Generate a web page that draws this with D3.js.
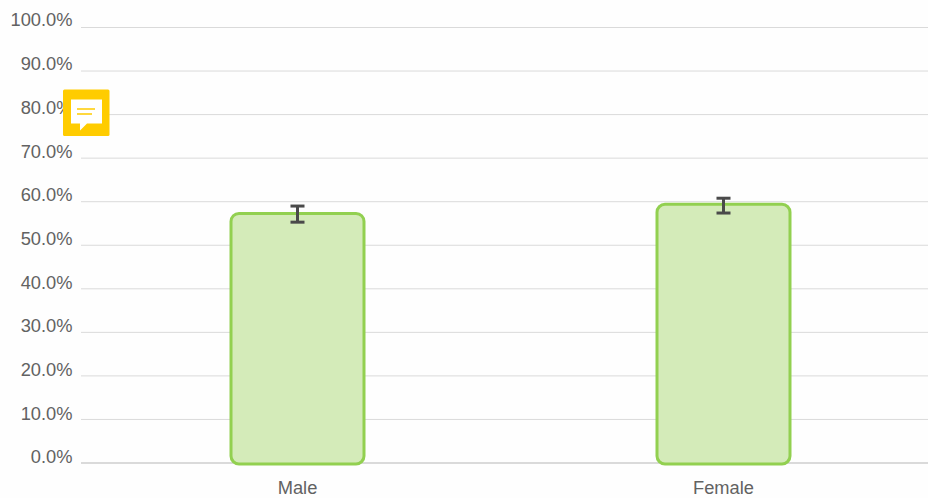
<!DOCTYPE html>
<html>
<head>
<meta charset="utf-8">
<script src="https://cdn.jsdelivr.net/npm/d3@7"></script>
<style>
    html, body { margin: 0; padding: 0; background: #fefefe; }
    svg { display: block; }
    text { font-family: "Liberation Sans", Arial, sans-serif; font-size: 18.3px; fill: #626262; }
</style>
</head>
<body>
<svg width="928" height="498"></svg>
<script>
const categories = ['Male', 'Female'];
const values = [57.3, 59.4];
const errorLow = [55.3, 57.4];
const errorHigh = [59.0, 60.8];
const yTicks = [0, 10, 20, 30, 40, 50, 60, 70, 80, 90, 100];

const svg = d3.select('svg');

const yScale = d3.scaleLinear().domain([0, 100]).range([463, 27.5]);
// tick labels sit above their gridlines, a little less so at the bottom
const yLabel = d3.scaleLinear().domain([0, 100]).range([457, 20]);
const xScale = d3.scaleBand().domain(categories).range([84.5, 936.5]);
const barWidth = 133;

// gridlines
svg.append('g')
    .selectAll('line')
    .data(yTicks)
    .join('line')
    .attr('x1', 81)
    .attr('x2', 928)
    .attr('y1', (d) => yScale(d))
    .attr('y2', (d) => yScale(d))
    .attr('stroke', '#dadada')
    .attr('stroke-width', (d) => (d === 0 ? 2 : 1));

// y labels
svg.append('g')
    .selectAll('text')
    .data(yTicks)
    .join('text')
    .attr('x', 72.5)
    .attr('y', (d) => yLabel(d))
    .attr('dy', '0.35em')
    .attr('text-anchor', 'end')
    .text((d) => d3.format('.1f')(d) + '%');

// bars
const center = (d) => xScale(d) + xScale.bandwidth() / 2;
svg.append('g')
    .selectAll('rect')
    .data(categories)
    .join('rect')
    .attr('x', (d) => center(d) - barWidth / 2)
    .attr('y', (d, i) => yScale(values[i]))
    .attr('width', barWidth)
    .attr('height', (d, i) => yScale(0) - yScale(values[i]) + 1)
    .attr('rx', 8)
    .attr('fill', '#d4ebb9')
    .attr('stroke', '#92d050')
    .attr('stroke-width', 3);

// error bars
const err = svg.append('g').attr('stroke', '#4a4a4a').attr('stroke-width', 3);
categories.forEach((d, i) => {
    const cx = center(d);
    err.append('line')
        .attr('x1', cx).attr('x2', cx)
        .attr('y1', yScale(errorLow[i])).attr('y2', yScale(errorHigh[i]));
    err.append('line')
        .attr('x1', cx - 7).attr('x2', cx + 7)
        .attr('y1', yScale(errorLow[i])).attr('y2', yScale(errorLow[i]));
    err.append('line')
        .attr('x1', cx - 7).attr('x2', cx + 7)
        .attr('y1', yScale(errorHigh[i])).attr('y2', yScale(errorHigh[i]));
});

// x labels
svg.append('g')
    .selectAll('text')
    .data(categories)
    .join('text')
    .attr('x', (d) => center(d))
    .attr('y', 494)
    .attr('text-anchor', 'middle')
    .text((d) => d);

// yellow comment badge over the axis
const badge = svg.append('g').attr('transform', 'translate(63,89.5)');
badge.append('rect')
    .attr('width', 46.5)
    .attr('height', 46.5)
    .attr('rx', 1.5)
    .attr('fill', '#ffcc00');
badge.append('path')
    .attr('d', 'M8 10H39V34H24L17 41V34H8Z')
    .attr('fill', '#ffffff');
badge.append('path')
    .attr('d', 'M14 19.5H32M14 24.5H29')
    .attr('stroke', '#ffcc00')
    .attr('stroke-width', 1.5);
</script>
</body>
</html>
